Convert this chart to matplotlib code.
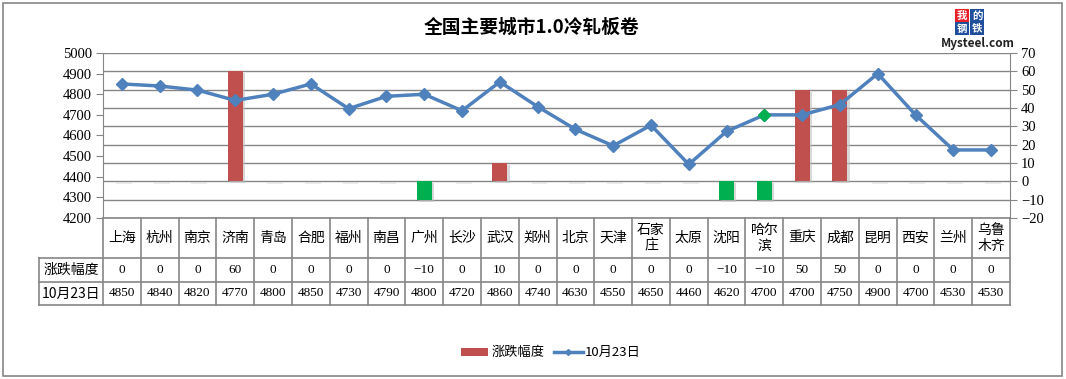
import numpy as np
import matplotlib.pyplot as plt
from matplotlib.patches import Rectangle
from matplotlib.lines import Line2D

plt.rcParams['font.family'] = ['Noto Sans CJK SC', 'DejaVu Sans']

cities = ['上海', '杭州', '南京', '济南', '青岛', '合肥', '福州', '南昌', '广州', '长沙', '武汉', '郑州',
          '北京', '天津', '石家\n庄', '太原', '沈阳', '哈尔\n滨', '重庆', '成都', '昆明', '西安', '兰州', '乌鲁\n木齐']
change = [0, 0, 0, 60, 0, 0, 0, 0, -10, 0, 10, 0, 0, 0, 0, 0, -10, -10, 50, 50, 0, 0, 0, 0]
price = [4850, 4840, 4820, 4770, 4800, 4850, 4730, 4790, 4800, 4720, 4860, 4740,
         4630, 4550, 4650, 4460, 4620, 4700, 4700, 4750, 4900, 4700, 4530, 4530]
left_ticks = list(range(4200, 5001, 100))
right_ticks = list(range(-20, 71, 10))

red = '#C0504D'
green = '#00B050'
blue = '#4F81BD'
grid = '#868686'
serif = 'Liberation Serif'

W, H = 1066, 379
fig = plt.figure(figsize=(W / 100, H / 100), dpi=100)

def fx(px):
    return px / W

def fy(py):
    return 1 - py / H

# outer chart frame
fig.add_artist(Rectangle((fx(3), fy(376)), fx(1062) - fx(3), fy(3) - fy(376),
                         transform=fig.transFigure, fill=False, ec=grid, lw=1.2))

x0, x1, ytop, ybot = 103, 1010, 53, 218
ax = fig.add_axes([fx(x0), fy(ybot), fx(x1) - fx(x0), fy(ytop) - fy(ybot)])
ax2 = ax.twinx()
n = len(cities)
x = np.arange(n)

# bars on right axis
ax.set_zorder(1)
ax2.set_zorder(2)
ax.patch.set_visible(False)
for xi, v in zip(x, change):
    if v == 0:
        ax2.bar(xi + 0.05, 0.9, bottom=-1.2, width=0.42, color='#d9d9d9', alpha=0.5, lw=0)
        continue
    c = red if v > 0 else green
    ax2.bar(xi + 0.06, v, bottom=-1.0, width=0.4, color='#bfbfbf', alpha=0.6, lw=0)
    ax2.bar(xi, v, width=0.4, color=c, lw=0)
ax2.set_ylim(-20, 70)
ax2.set_yticks(right_ticks)
ax2.set_yticklabels([str(t).replace('-', '−') for t in right_ticks], fontfamily=serif, fontsize=10.5)
ax2.grid(axis='y', color=grid, lw=1)
ax2.set_axisbelow(True)

# line on left axis, drawn on top
ax3 = ax.twinx()
ax3.set_zorder(3)
ax3.plot(x, price, color=blue, lw=2.5, marker='D', ms=6, mfc=blue, mec=blue)
ax3.plot(x[17], price[17], marker='D', ms=6, color=green, ls='none')
ax3.set_ylim(4200, 5000)
ax3.set_yticks([])
for s in ax3.spines.values():
    s.set_visible(False)

ax.set_ylim(4200, 5000)
ax.set_yticks(left_ticks)
ax.set_yticklabels([str(t) for t in left_ticks], fontfamily=serif, fontsize=10.5)
for a in (ax, ax2, ax3):
    a.set_xlim(-0.5, n - 0.5)
    a.set_xticks([])
for a in (ax, ax2):
    a.spines['top'].set_visible(False)
    a.spines['bottom'].set_visible(False)
    for s in a.spines.values():
        s.set_color(grid)
    a.tick_params(axis='y', color=grid, length=5, pad=3)
ax.spines['right'].set_visible(False)
ax2.spines['left'].set_visible(False)

# data table below plot
rows = [218, 258, 282, 305]
lab_x = 39
cw = (x1 - x0) / n
lc = dict(color=grid, lw=1.2, transform=fig.transFigure)
fig.add_artist(Line2D([fx(x0), fx(x1)], [fy(rows[0])] * 2, **lc))
for r in rows[1:]:
    fig.add_artist(Line2D([fx(lab_x), fx(x1)], [fy(r)] * 2, **lc))
fig.add_artist(Line2D([fx(lab_x)] * 2, [fy(rows[1]), fy(rows[3])], **lc))
for i in range(n + 1):
    xx = x0 + i * cw
    fig.add_artist(Line2D([fx(xx)] * 2, [fy(rows[0]), fy(rows[3])], **lc))
for i in range(n):
    cx = fx(x0 + (i + 0.5) * cw)
    fig.text(cx, fy((rows[0] + rows[1]) / 2), cities[i], ha='center', va='center',
             fontsize=10, linespacing=1.1)
    fig.text(cx, fy((rows[1] + rows[2]) / 2), str(change[i]).replace('-', '−'), ha='center',
             va='center', fontsize=9.5, fontfamily=serif)
    fig.text(cx, fy((rows[2] + rows[3]) / 2), str(price[i]), ha='center', va='center',
             fontsize=9.5, fontfamily=serif)
fig.text(fx((lab_x + x0) / 2), fy((rows[1] + rows[2]) / 2), '涨跌幅度', ha='center', va='center', fontsize=10)
fig.text(fx((lab_x + x0) / 2), fy((rows[2] + rows[3]) / 2), '10月23日', ha='center', va='center', fontsize=10)

# title
fig.text(fx(532), fy(27), '全国主要城市1.0冷轧板卷', ha='center', va='center', fontsize=13.5,
         fontweight='bold')

# legend
fig.add_artist(Rectangle((fx(461), fy(356)), fx(488) - fx(461), fy(348) - fy(356),
                         transform=fig.transFigure, color=red, lw=0))
fig.text(fx(492), fy(352), '涨跌幅度', va='center', fontsize=9.5)
fig.add_artist(Line2D([fx(554), fx(583)], [fy(352)] * 2, color=blue, lw=2.5,
                      transform=fig.transFigure))
fig.add_artist(Line2D([fx(568)], [fy(352)], color=blue, marker='D', ms=3,
                      transform=fig.transFigure))
fig.text(fx(585), fy(352), '10月23日', va='center', fontsize=9.5)

# logo
for txt, bx, by, c in [('我', 955, 9, '#e8202a'), ('的', 970, 9, '#1f4f9c'),
                       ('钢', 955, 22, '#1f4f9c'), ('铁', 970, 22, '#1f4f9c')]:
    fig.add_artist(Rectangle((fx(bx), fy(by + 13)), fx(14), 13 / H, transform=fig.transFigure,
                             color=c, lw=0))
    fig.text(fx(bx + 7), fy(by + 6.5), txt, ha='center', va='center', color='white',
             fontsize=7.5, fontweight='bold')
fig.text(fx(978), fy(43), 'Mysteel.com', ha='center', va='center', fontsize=8.5,
         fontweight='bold', color='#222222')

fig.savefig('out.png', dpi=100)
